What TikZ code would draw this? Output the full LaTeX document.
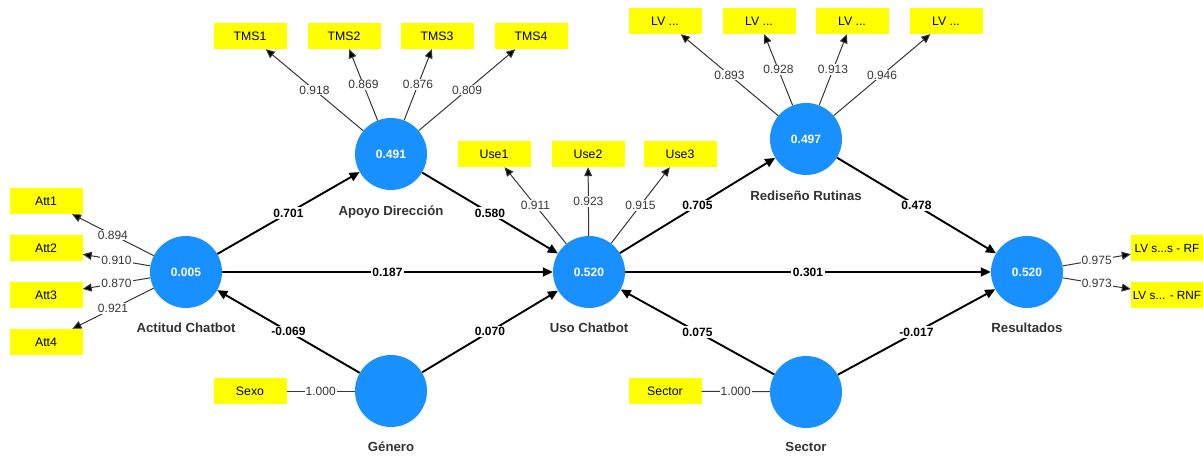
\documentclass[tikz,border=0pt]{standalone}
\usepackage{fontspec}
\setmainfont{Liberation Sans}
\usetikzlibrary{arrows.meta}
\definecolor{lvblue}{RGB}{24,144,255}
\definecolor{indyel}{RGB}{255,255,0}
\definecolor{namegray}{RGB}{51,51,51}
\definecolor{loadgray}{RGB}{55,55,55}
\tikzset{
  lv/.style={circle, fill=lvblue, minimum size=72pt, inner sep=0pt, text=white, font=\bfseries\fontsize{12}{14}\selectfont},
  ind/.style={fill=indyel, minimum width=73pt, minimum height=26pt, inner sep=0pt, text=black, font=\fontsize{12.3}{14}\selectfont},
  lvname/.style={text=namegray, font=\bfseries\fontsize{13.2}{15}\selectfont},
  pathedge/.style={-{Triangle[length=10pt,width=9pt]}, line width=1.9pt, black},
  loadedge/.style={-{Triangle[length=9pt,width=8pt,fill=black]}, line width=1pt, draw=loadgray},
  plain/.style={line width=1pt, draw=loadgray},
  plab/.style={fill=white, inner sep=1.5pt, text=black, font=\bfseries\fontsize{12}{14}\selectfont},
  llab/.style={fill=white, inner sep=1pt, text=loadgray, font=\fontsize{12}{14}\selectfont}
}
\begin{document}
\begin{tikzpicture}[x=1pt,y=-1pt]
\useasboundingbox[fill=white] (0,0) rectangle (1203,457);
% latent variables
\node[lv] (act) at (186,272) {0.005};
\node[lv] (apo) at (391,154) {0.491};
\node[lv] (uso) at (589,272) {0.520};
\node[lv] (red) at (806,139) {0.497};
\node[lv] (res) at (1027,272) {0.520};
\node[lv] (gen) at (391,391) {};
\node[lv] (sec) at (806,392) {};
% names
\node[lvname] (nact) at (186,328) {Actitud Chatbot};
\node[lvname] (napo) at (391,212) {Apoyo Dirección};
\node[lvname] (nuso) at (589,328) {Uso Chatbot};
\node[lvname] (nred) at (806,196) {Rediseño Rutinas};
\node[lvname] (nres) at (1027,328) {Resultados};
\node[lvname] (ngen) at (391,447) {Género};
\node[lvname] (nsec) at (806,447) {Sector};
% indicators
\node[ind] (att1) at (46,201) {Att1};
\node[ind] (att2) at (46,248) {Att2};
\node[ind] (att3) at (46,295) {Att3};
\node[ind] (att4) at (46,342) {Att4};
\node[ind] (tms1) at (250,36) {TMS1};
\node[ind] (tms2) at (344,36) {TMS2};
\node[ind] (tms3) at (437,36) {TMS3};
\node[ind] (tms4) at (531,36) {TMS4};
\node[ind] (use1) at (494,154) {Use1};
\node[ind] (use2) at (588,154) {Use2};
\node[ind] (use3) at (680,154) {Use3};
\node[ind] (lv1) at (665,21) {LV ...};
\node[ind] (lv2) at (759,21) {LV ...};
\node[ind] (lv3) at (852,21) {LV ...};
\node[ind] (lv4) at (946,21) {LV ...};
\node[ind, minimum width=72pt, font=\fontsize{11.8}{14}\selectfont] (rf) at (1167,248) {LV s...s - RF};
\node[ind, minimum width=72pt, font=\fontsize{11.8}{14}\selectfont] (rnf) at (1167,295) {LV s... - RNF};
\node[ind] (sexo) at (250,391) {Sexo};
\node[ind] (sect) at (665,391) {Sector};
% structural paths
\draw[pathedge] (act) -- node[plab] {0.701} (apo);
\draw[pathedge] (apo) -- node[plab] {0.580} (uso);
\draw[pathedge] (act) -- node[plab] {0.187} (uso);
\draw[pathedge] (gen) -- node[plab] {-0.069} (act);
\draw[pathedge] (gen) -- node[plab] {0.070} (uso);
\draw[pathedge] (uso) -- node[plab] {0.705} (red);
\draw[pathedge] (red) -- node[plab] {0.478} (res);
\draw[pathedge] (uso) -- node[plab] {0.301} (res);
\draw[pathedge] (sec) -- node[plab] {0.075} (uso);
\draw[pathedge] (sec) -- node[plab] {-0.017} (res);
% loadings
\draw[loadedge] (act) -- node[llab] {0.894} (att1);
\draw[loadedge] (act) -- node[llab] {0.910} (att2);
\draw[loadedge] (act) -- node[llab] {0.870} (att3);
\draw[loadedge] (act) -- node[llab] {0.921} (att4);
\draw[loadedge] (apo) -- node[llab] {0.918} (tms1);
\draw[loadedge] (apo) -- node[llab] {0.869} (tms2);
\draw[loadedge] (apo) -- node[llab] {0.876} (tms3);
\draw[loadedge] (apo) -- node[llab] {0.809} (tms4);
\draw[loadedge] (uso) -- node[llab] {0.911} (use1);
\draw[loadedge] (uso) -- node[llab] {0.923} (use2);
\draw[loadedge] (uso) -- node[llab] {0.915} (use3);
\draw[loadedge] (red) -- node[llab] {0.893} (lv1);
\draw[loadedge] (red) -- node[llab] {0.928} (lv2);
\draw[loadedge] (red) -- node[llab] {0.913} (lv3);
\draw[loadedge] (red) -- node[llab] {0.946} (lv4);
\draw[loadedge] (res) -- node[llab] {0.975} (rf);
\draw[loadedge] (res) -- node[llab] {0.973} (rnf);
\draw[plain] (sexo) -- node[llab] {1.000} (gen);
\draw[plain] (sect) -- node[llab] {1.000} (sec);
\end{tikzpicture}
\end{document}
